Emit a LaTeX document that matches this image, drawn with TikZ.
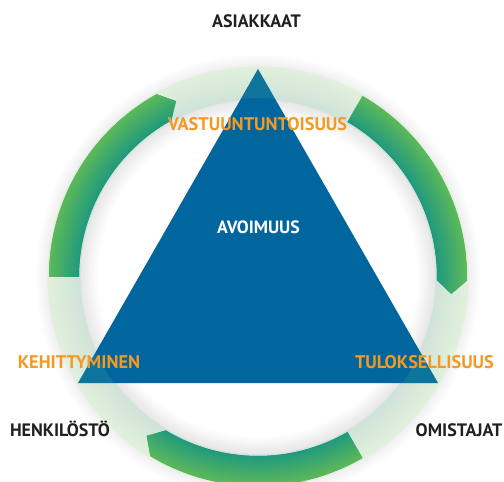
\documentclass[tikz,border=0pt]{standalone}
\usepackage{fontspec}
\setmainfont{PT Sans}
\definecolor{triblue}{HTML}{00669D}
\definecolor{ringin}{HTML}{D0E3D9}
\definecolor{ringout}{HTML}{E0F0DC}
\definecolor{arrin}{HTML}{1E9880}
\definecolor{arrout}{HTML}{5DB95A}
\definecolor{ringover}{HTML}{4FAF9A}
\definecolor{labor}{HTML}{F39A26}
\definecolor{labdark}{HTML}{231F20}
\newcommand\drawringarrow[2]{%
  \begin{scope}
    \clip (#1:209pt) arc[start angle=#1, end angle=#2, radius=209pt]
      -- ({#2-4}:194pt) -- (#2:179pt)
      arc[start angle=#2, end angle=#1, radius=179pt] -- cycle;
    \foreach \i in {0,...,31}{%
      \pgfmathtruncatemacro\p{100-\i*100/31}%
      \pgfmathsetmacro\r{178.5+\i}%
      \draw[line width=2.2pt, color=arrin!\p!arrout] (0,0) circle[radius=\r pt];
    }
  \end{scope}}
\begin{document}
\begin{tikzpicture}[x=1pt,y=1pt,
  darklabel/.style={font=\bfseries\fontsize{18}{18}\selectfont, text=labdark, inner sep=0pt, anchor=base},
  orangelabel/.style={font=\bfseries\fontsize{18.3}{18}\selectfont, text=labor, inner sep=0pt, anchor=base},
  whitelabel/.style={font=\bfseries\fontsize{17.8}{18}\selectfont, text=white, inner sep=0pt, anchor=base}]
\useasboundingbox (-258,-205) rectangle (246,277);
% outer soft shadow
\foreach \i in {0,...,14}{%
  \pgfmathtruncatemacro\p{7-\i/2}%
  \pgfmathsetmacro\r{209.5+\i}%
  \draw[line width=1.6pt, color=black!\p] (0,0) circle[radius=\r pt];
}
% inner soft shadow
\foreach \i in {0,...,20}{%
  \pgfmathtruncatemacro\p{11-\i*11/20}%
  \pgfmathsetmacro\r{178.5-\i}%
  \draw[line width=1.6pt, color=black!\p] (0,0) circle[radius=\r pt];
}
% light ring
\foreach \i in {0,...,31}{%
  \pgfmathtruncatemacro\p{100-\i*100/31}%
  \pgfmathsetmacro\r{178.5+\i}%
  \draw[line width=2pt, color=ringin!\p!ringout] (0,0) circle[radius=\r pt];
}
% green arrows (clockwise)
\drawringarrow{60}{-1}
\drawringarrow{-60}{-121}
\drawringarrow{180}{119}
% triangle
\coordinate (apex) at (0,208);
\coordinate (bl) at (-180,-106);
\coordinate (br) at (180,-106);
\fill[triblue] (apex) -- (bl) -- (br) -- cycle;
\begin{scope}
  \clip (apex) -- (bl) -- (br) -- cycle;
  \fill[even odd rule, ringover, opacity=0.2] (0,0) circle[radius=209pt] (0,0) circle[radius=179pt];
\end{scope}
% labels
\node[darklabel] (asiakkaat) at (-1.5,249.3) {ASIAKKAAT};
\node[orangelabel] (vastuu) at (-0.5,146.3) {VASTUUNTUNTOISUUS};
\node[whitelabel] (avoimuus) at (0.5,43.7) {AVOIMUUS};
\node[orangelabel] (kehitt) at (-179,-91.3) {KEHITTYMINEN};
\node[orangelabel] (tulos) at (166.5,-91.3) {TULOKSELLISUUS};
\node[darklabel] (henk) at (-198,-159) {HENKILÖSTÖ};
\node[darklabel] (omist) at (201,-159) {OMISTAJAT};
\end{tikzpicture}
\end{document}
